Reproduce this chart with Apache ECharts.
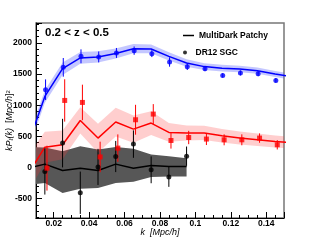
<!DOCTYPE html>
<html><head><meta charset="utf-8">
<script src="https://cdn.jsdelivr.net/npm/echarts@6/dist/echarts.min.js"></script>
<style>html,body{margin:0;padding:0;background:#fff}#c{width:316px;height:243px}</style>
</head><body><div id="c"></div>
<script>
// ---- data ----
const kModel = [0.005,0.015,0.025,0.035,0.045,0.055,0.065,0.075,0.085,0.095,0.105,0.115,0.125,0.135,0.145,0.155];
const blueModel = [330,1141,1587,1759,1775,1830,1908,1903,1785,1678,1620,1595,1580,1555,1500,1455];
const blueBand  = [110,100,100,95,90,80,75,70,65,60,55,55,52,50,48,48];
const redModel  = [-130,326,365,756,473,730,617,714,563,553,555,510,473,445,418,400];
const redBand   = [300,250,230,210,230,230,220,190,150,120,115,110,105,100,95,95];
const kBlackModel = [0.005,0.015,0.025,0.035,0.045,0.055,0.065,0.075,0.085,0.095];
const blackModel  = [-15,55,-48,-10,-48,55,-10,32,16,16];
const blackBandHi = [330,320,260,340,290,330,300,210,180,150];
const blackBandLo = [-280,-250,-410,-340,-330,-250,-230,-150,-145,-145];

const kBlue = [0.0154,0.0254,0.0354,0.0454,0.0554,0.0654,0.0754,0.0854,0.0954,0.1054,0.1154,0.1254,0.1354,0.1454];
const blueVal = [1250,1608,1785,1775,1839,1876,1828,1694,1619,1587,1479,1518,1506,1399];
const blueErr = [165,150,112,88,80,67,55,75,53,40,35,40,40,37];
const kRed = [0.0162,0.0262,0.0362,0.0462,0.0562,0.0662,0.0762,0.0862,0.0962,0.1062,0.1162,0.1262,0.1362,0.1462];
const redVal = [-10,1077,1045,170,312,767,858,434,482,457,445,445,473,365];
const redErr = [360,340,285,245,220,240,160,130,107,96,88,88,75,75];
const kBlack = [0.0150,0.0250,0.0350,0.0450,0.0550,0.0650,0.0750,0.0850,0.0950];
const blackVal = [-64,392,-405,10,177,376,-37,-150,182];
const blackErr = [370,390,340,290,250,220,215,160,155];

const xTicks = {min:0.01, max:0.15};
const yRange = {min:-810, max:2320};

// ---- chart ----
const FONT = 'Liberation Sans, Arial, Helvetica, sans-serif';
const chart = echarts.init(document.getElementById('c'), null, {renderer:'canvas'});

function band(ks, mid, hw, lo, hi, color, z){
  return {type:'custom', clip:true, z:z, silent:true, animation:false,
    dimensions:['x','y'], encode:{x:0,y:1}, data:[[0.08,0]],
    renderItem(p, api){
      const pts=[];
      for(let i=0;i<ks.length;i++) pts.push(api.coord([ks[i], hi ? hi[i] : mid[i]+hw[i]]));
      for(let i=ks.length-1;i>=0;i--) pts.push(api.coord([ks[i], lo ? lo[i] : mid[i]-hw[i]]));
      return {type:'polygon', shape:{points:pts}, style:{fill:color}};
    }};
}
function errBars(ks, vals, errs, color, z){
  return {type:'custom', clip:true, z:z, silent:true, animation:false,
    dimensions:['x','y','e'], encode:{x:0,y:1},
    data: ks.map((k,i)=>[k, vals[i], errs[i]]),
    renderItem(p, api){
      const x=api.value(0), y=api.value(1), e=api.value(2);
      const a=api.coord([x,y-e]), b=api.coord([x,y+e]);
      return {type:'line', shape:{x1:a[0],y1:a[1],x2:b[0],y2:b[1]}, style:{stroke:color, lineWidth:1}};
    }};
}
function modelLine(name, ks, vals, color, z){
  return {type:'line', name:name, clip:true, z:z, symbol:'none', silent:true, animation:false,
    data: ks.map((k,i)=>[k, vals[i]]),
    lineStyle:{color:color, width:1.5}, itemStyle:{color:color}};
}
function pts(name, ks, vals, color, sym, z){
  return {type:'scatter', name:name, z:z, symbol:sym, symbolSize:5, silent:true, animation:false,
    data: ks.map((k,i)=>[k, vals[i]]), itemStyle:{color:color}};
}

const option = {
  animation:false,
  backgroundColor:'#fff',
  textStyle:{fontFamily:FONT},
  title:{text:'0.2 < z < 0.5', left:40, top:22,
    textStyle:{fontFamily:FONT, fontWeight:'bold', fontSize:11.5, color:'#000'}},
  legend:[
    {data:['MultiDark Patchy'], left:178, top:26, icon:'rect', itemWidth:11, itemHeight:1.5,
      textStyle:{fontFamily:FONT, fontWeight:'bold', fontSize:8.5, color:'#000'}},
    {data:['DR12 SGC'], left:178, top:43, icon:'circle', itemWidth:11, itemHeight:4,
      textStyle:{fontFamily:FONT, fontWeight:'bold', fontSize:8.5, color:'#000'}}
  ],
  grid:{left:36, right:32, top:23, bottom:25, show:true, borderColor:'#777', borderWidth:1.5,
    containLabel:false, outerBoundsMode:'none'},
  xAxis:{type:'value', min:xTicks.min, max:xTicks.max, splitNumber:7,
    name:'k  [Mpc/h]', nameLocation:'middle', nameGap:10, nameMoveOverlap:false,
    nameTextStyle:{fontFamily:FONT, fontStyle:'italic', fontSize:9, color:'#000', verticalAlign:'top'},
    axisLine:{show:true, onZero:false, lineStyle:{color:'#000', width:1}},
    axisTick:{show:true, inside:true, length:6, lineStyle:{color:'#000'}},
    minorTick:{show:true, splitNumber:4, length:3, lineStyle:{color:'#000'}},
    splitLine:{show:false},
    axisLabel:{showMinLabel:false, showMaxLabel:false, margin:1,
      fontFamily:FONT, fontWeight:'bold', fontSize:8.5, color:'#000'}},
  yAxis:{type:'value', min:yRange.min, max:yRange.max, splitNumber:5,
    name:'{i|kP}{s|ℓ}{i|(k)}  {n|[}{i|Mpc/h}{n|]}{p|2}', nameLocation:'middle', nameGap:22, nameRotate:90,
    nameMoveOverlap:false,
    nameTextStyle:{fontFamily:FONT, fontSize:9, color:'#000',
      rich:{i:{fontStyle:'italic', fontSize:9, fontFamily:FONT, color:'#000'},
            n:{fontSize:9, fontFamily:FONT, color:'#000'},
            s:{fontStyle:'italic', fontSize:6, fontFamily:FONT, verticalAlign:'bottom', color:'#000'},
            p:{fontSize:6, fontFamily:FONT, verticalAlign:'top', color:'#000'}}},
    axisLine:{show:true, onZero:false, lineStyle:{color:'#000', width:1}},
    axisTick:{show:true, inside:true, length:6, lineStyle:{color:'#000'}},
    minorTick:{show:true, splitNumber:5, length:3, lineStyle:{color:'#000'}},
    splitLine:{show:false},
    axisLabel:{showMinLabel:false, showMaxLabel:false, margin:4,
      formatter:(v)=>String(v),
      fontFamily:FONT, fontWeight:'bold', fontSize:8.5, color:'#000'}},
  series:[
    band(kBlackModel, blackModel, null, blackBandLo, blackBandHi, '#575757', 1),
    band(kModel, redModel, redBand, null, null, 'rgba(255,60,60,0.25)', 2),
    band(kModel, blueModel, blueBand, null, null, 'rgba(60,70,255,0.3)', 3),
    modelLine('MultiDark Patchy', kBlackModel, blackModel, '#000', 4),
    modelLine('red model', kModel, redModel, '#ff0000', 4),
    modelLine('blue model', kModel, blueModel, '#0000ff', 4),
    errBars(kBlack, blackVal, blackErr, '#000', 5),
    errBars(kRed, redVal, redErr, '#ff0000', 5),
    errBars(kBlue, blueVal, blueErr, '#0000ff', 5),
    pts('DR12 SGC', kBlack, blackVal, '#000', 'circle', 6),
    pts('red data', kRed, redVal, '#ff0000', 'rect', 6),
    pts('blue data', kBlue, blueVal, '#0000ff', 'circle', 6)
  ]
};
chart.setOption(option);
</script>
</body></html>
